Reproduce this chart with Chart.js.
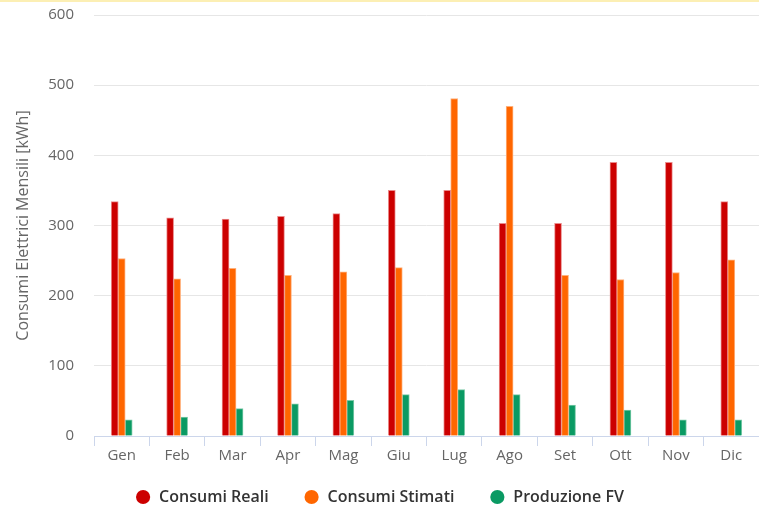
<!DOCTYPE html>
<html>
<head>
<meta charset="utf-8">
<script src="https://cdn.jsdelivr.net/npm/chart.js@4"></script>
<style>
  body { margin: 0; background: #fff; }
  #wrap { width: 759px; height: 510px; border-top: 2px solid #fcefb4; position: relative; }
</style>
</head>
<body>
<div id="wrap"><canvas id="consumi"></canvas></div>
<script>
// monthly data (kWh)
var mesi = ['Gen', 'Feb', 'Mar', 'Apr', 'Mag', 'Giu', 'Lug', 'Ago', 'Set', 'Ott', 'Nov', 'Dic'];
var consumiReali = [334, 311, 309, 313, 317, 350, 350, 303, 303, 390, 390, 334];
var consumiStimati = [253, 224, 239, 229, 234, 240, 481, 470, 229, 223, 233, 251];
var produzioneFV = [23, 27, 39, 46, 51, 59, 66, 59, 44, 37, 23, 23];
var yTicks = [0, 100, 200, 300, 400, 500, 600];

var FONT = "'Open Sans', 'Noto Sans', sans-serif";
var GAP = '\u00a0\u00a0\u00a0\u00a0\u00a0\u00a0'; // extra room between legend items

var makeSet = function(label, data, color, edge) {
    return {
        label: label,
        data: data,
        backgroundColor: color,
        borderColor: edge,
        borderWidth: 1,
        borderSkipped: 'bottom',
        barThickness: 7,
        categoryPercentage: 0.6,
        barPercentage: 1
    };
};

var ctx = document.getElementById('consumi');
var chart = new Chart(ctx, {
    type: 'bar',
    data: {
        labels: mesi,
        datasets: [
            makeSet('Consumi Reali', consumiReali, '#cc0000', '#ea8a8a'),
            makeSet('Consumi Stimati', consumiStimati, '#ff6600', '#ffb07a'),
            makeSet('Produzione FV', produzioneFV, '#0a9a63', '#7ccaa9')
        ]
    },
    options: {
        responsive: true,
        maintainAspectRatio: false,
        animation: false,
        layout: { padding: { top: 13, right: 0, left: 0, bottom: -3 } },
        scales: {
            x: {
                offset: true,
                afterFit: function(scale) { scale.height = 43; },
                grid: {
                    offset: true,
                    drawOnChartArea: false,
                    drawTicks: true,
                    tickLength: 10,
                    color: '#ccd6eb'
                },
                border: { display: true, color: '#ccd6eb', width: 1 },
                ticks: { color: '#666666', font: { family: FONT, size: 15 }, padding: 1 }
            },
            y: {
                min: 0,
                max: 600,
                afterBuildTicks: function(scale) {
                    scale.ticks = yTicks.map(function(v) { return { value: v }; });
                },
                afterFit: function(scale) {
                    scale.width = 94;
                    scale.paddingTop = 0;
                    scale.paddingBottom = 0;
                },
                grid: { color: '#e6e6e6', drawTicks: false },
                border: { display: false },
                ticks: { color: '#666666', font: { family: FONT, size: 15 }, padding: 20 },
                title: {
                    display: true,
                    text: 'Consumi Elettrici Mensili [kWh]',
                    color: '#666666',
                    font: { family: FONT, size: 16 },
                    padding: { top: 14, bottom: 0 }
                }
            }
        },
        plugins: {
            legend: {
                position: 'bottom',
                labels: {
                    usePointStyle: true,
                    pointStyle: 'circle',
                    boxWidth: 16,
                    boxHeight: 10,
                    padding: 10,
                    color: '#333333',
                    font: { family: FONT, size: 16, weight: '600' },
                    generateLabels: function(c) {
                        var items = Chart.defaults.plugins.legend.labels.generateLabels(c);
                        items.forEach(function(it, i) {
                            it.strokeStyle = it.fillStyle;
                            it.lineWidth = 0;
                            if (i < items.length - 1) it.text += GAP;
                        });
                        return items;
                    }
                }
            },
            tooltip: { enabled: false }
        }
    }
});
</script>
</body>
</html>
